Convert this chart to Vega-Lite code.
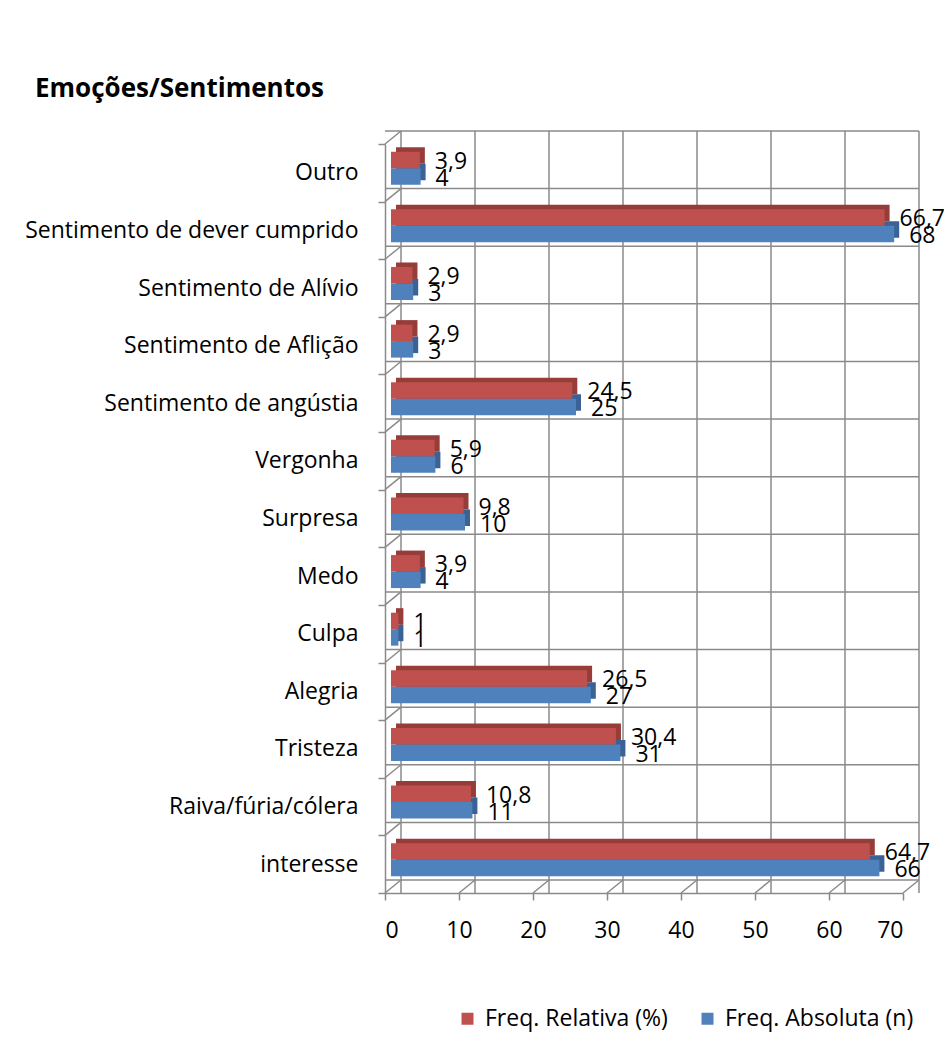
{
  "$schema": "https://vega.github.io/schema/vega-lite/v6.json",
  "width": 518,
  "height": 749,
  "autosize": {"type": "none"},
  "padding": {"left": 385, "top": 144, "right": 41, "bottom": 146},
  "background": "white",
  "title": {
    "text": "Emoções/Sentimentos",
    "anchor": "start",
    "frame": "group",
    "dx": -350,
    "offset": 28,
    "font": "Open Sans",
    "fontSize": 26,
    "fontWeight": "bold",
    "color": "#000000"
  },
  "datasets": {
    "main": [
      {"cat": "Outro", "rel": 3.9, "abs": 4},
      {"cat": "Sentimento de dever cumprido", "rel": 66.7, "abs": 68},
      {"cat": "Sentimento de Alívio", "rel": 2.9, "abs": 3},
      {"cat": "Sentimento de Aflição", "rel": 2.9, "abs": 3},
      {"cat": "Sentimento de angústia", "rel": 24.5, "abs": 25},
      {"cat": "Vergonha", "rel": 5.9, "abs": 6},
      {"cat": "Surpresa", "rel": 9.8, "abs": 10},
      {"cat": "Medo", "rel": 3.9, "abs": 4},
      {"cat": "Culpa", "rel": 1, "abs": 1},
      {"cat": "Alegria", "rel": 26.5, "abs": 27},
      {"cat": "Tristeza", "rel": 30.4, "abs": 31},
      {"cat": "Raiva/fúria/cólera", "rel": 10.8, "abs": 11},
      {"cat": "interesse", "rel": 64.7, "abs": 66}
    ],
    "ticks": [{"t": 0}, {"t": 10}, {"t": 20}, {"t": 30}, {"t": 40}, {"t": 50}, {"t": 60}, {"t": 70}]
  },
  "layer": [
    {
      "data": {"name": "ticks"},
      "mark": {"type": "rule", "color": "#8a8a8a", "strokeWidth": 1.5, "xOffset": 16, "yOffset": -13, "y2Offset": -13},
      "encoding": {
        "x": {"field": "t", "type": "quantitative", "title": null}
      }
    },
    {
      "data": {"name": "main"},
      "mark": {"type": "rule", "color": "#8a8a8a", "strokeWidth": 1.5, "xOffset": 16, "x2Offset": 16, "yOffset": -13},
      "encoding": {
        "y": {"field": "cat", "type": "nominal", "bandPosition": 0, "title": null}
      }
    },
    {
      "data": {"name": "main"},
      "transform": [{"filter": "datum.cat === 'interesse'"}],
      "mark": {"type": "rule", "color": "#8a8a8a", "strokeWidth": 1.5, "xOffset": 16, "x2Offset": 16, "yOffset": -13},
      "encoding": {
        "y": {"field": "cat", "type": "nominal", "bandPosition": 1, "title": null}
      }
    },
    {
      "data": {"name": "main"},
      "mark": {"type": "rule", "color": "#8a8a8a", "strokeWidth": 1.5, "x2Offset": 16, "y2Offset": -13},
      "encoding": {
        "x": {"datum": 0, "type": "quantitative"},
        "x2": {"datum": 0},
        "y": {"field": "cat", "type": "nominal", "bandPosition": 0, "title": null},
        "y2": {"field": "cat", "bandPosition": 0}
      }
    },
    {
      "data": {"name": "ticks"},
      "mark": {"type": "rule", "color": "#8a8a8a", "strokeWidth": 1.5, "x2Offset": 16, "y2Offset": -13},
      "encoding": {
        "x": {"field": "t", "type": "quantitative", "title": null},
        "x2": {"field": "t"},
        "y": {"datum": "interesse", "type": "nominal", "bandPosition": 1},
        "y2": {"datum": "interesse", "bandPosition": 1}
      }
    },
    {
      "data": {"name": "main"},
      "mark": {"type": "bar", "height": 16.5, "color": "#3a6294", "xOffset": 11, "x2Offset": 11, "yOffset": -0.8},
      "encoding": {
        "x": {"field": "abs", "type": "quantitative", "title": null},
        "y": {"field": "cat", "type": "nominal", "title": null}
      }
    },
    {
      "data": {"name": "main"},
      "mark": {"type": "bar", "height": 16.5, "xOffset": 6, "x2Offset": 6, "yOffset": 3.7},
      "encoding": {
        "x": {"field": "abs", "type": "quantitative", "title": null},
        "y": {"field": "cat", "type": "nominal", "title": null},
        "color": {"datum": "Freq. Absoluta (n)", "type": "nominal"}
      }
    },
    {
      "data": {"name": "main"},
      "mark": {"type": "bar", "height": 16.5, "color": "#963c39", "xOffset": 11, "x2Offset": 11, "yOffset": -17.3},
      "encoding": {
        "x": {"field": "rel", "type": "quantitative", "title": null},
        "y": {"field": "cat", "type": "nominal", "title": null}
      }
    },
    {
      "data": {"name": "main"},
      "mark": {"type": "bar", "height": 16.5, "xOffset": 6, "x2Offset": 6, "yOffset": -12.8},
      "encoding": {
        "x": {
          "field": "rel", "type": "quantitative", "title": null,
          "scale": {"domain": [0, 70], "nice": false},
          "axis": {"values": [0, 10, 20, 30, 40, 50, 60, 70], "tickSize": 7, "labelPadding": 19, "title": null}
        },
        "y": {
          "field": "cat", "type": "nominal", "title": null,
          "scale": {
            "domain": ["Outro", "Sentimento de dever cumprido", "Sentimento de Alívio", "Sentimento de Aflição", "Sentimento de angústia", "Vergonha", "Surpresa", "Medo", "Culpa", "Alegria", "Tristeza", "Raiva/fúria/cólera", "interesse"],
            "paddingInner": 0, "paddingOuter": 0
          },
          "axis": {"tickBand": "extent", "tickSize": 7, "labelPadding": 20, "labelLimit": 0, "title": null}
        },
        "color": {
          "datum": "Freq. Relativa (%)", "type": "nominal",
          "scale": {"domain": ["Freq. Relativa (%)", "Freq. Absoluta (n)"], "range": ["#C0504D", "#4F81BD"]},
          "legend": {
            "orient": "none", "direction": "horizontal", "legendX": 71, "legendY": 863,
            "title": null, "symbolType": "square", "symbolSize": 144, "symbolStrokeWidth": 0,
            "labelFont": "Open Sans", "labelFontSize": 23, "labelColor": "#000000", "labelLimit": 0,
            "columnPadding": 28, "labelOffset": 6
          }
        }
      }
    },
    {
      "data": {"name": "main"},
      "mark": {"type": "text", "align": "left", "baseline": "middle", "dx": 21, "dy": -11, "font": "Open Sans", "fontSize": 23, "color": "#000000"},
      "encoding": {
        "x": {"field": "rel", "type": "quantitative", "title": null},
        "y": {"field": "cat", "type": "nominal", "title": null},
        "text": {"field": "rel", "type": "quantitative", "format": ".3~g"}
      }
    },
    {
      "data": {"name": "main"},
      "mark": {"type": "text", "align": "left", "baseline": "middle", "dx": 21, "dy": 6, "font": "Open Sans", "fontSize": 23, "color": "#000000"},
      "encoding": {
        "x": {"field": "abs", "type": "quantitative", "title": null},
        "y": {"field": "cat", "type": "nominal", "title": null},
        "text": {"field": "abs", "type": "quantitative", "format": ".3~g"}
      }
    }
  ],
  "config": {
    "locale": {"number": {"decimal": ",", "thousands": ".", "grouping": [3], "currency": ["", " €"]}},
    "view": {"stroke": null},
    "axis": {
      "grid": false,
      "domainColor": "#8a8a8a",
      "domainWidth": 1.5,
      "tickColor": "#8a8a8a",
      "tickWidth": 1.5,
      "labelFont": "Open Sans",
      "labelFontSize": 23,
      "labelColor": "#000000"
    }
  }
}
